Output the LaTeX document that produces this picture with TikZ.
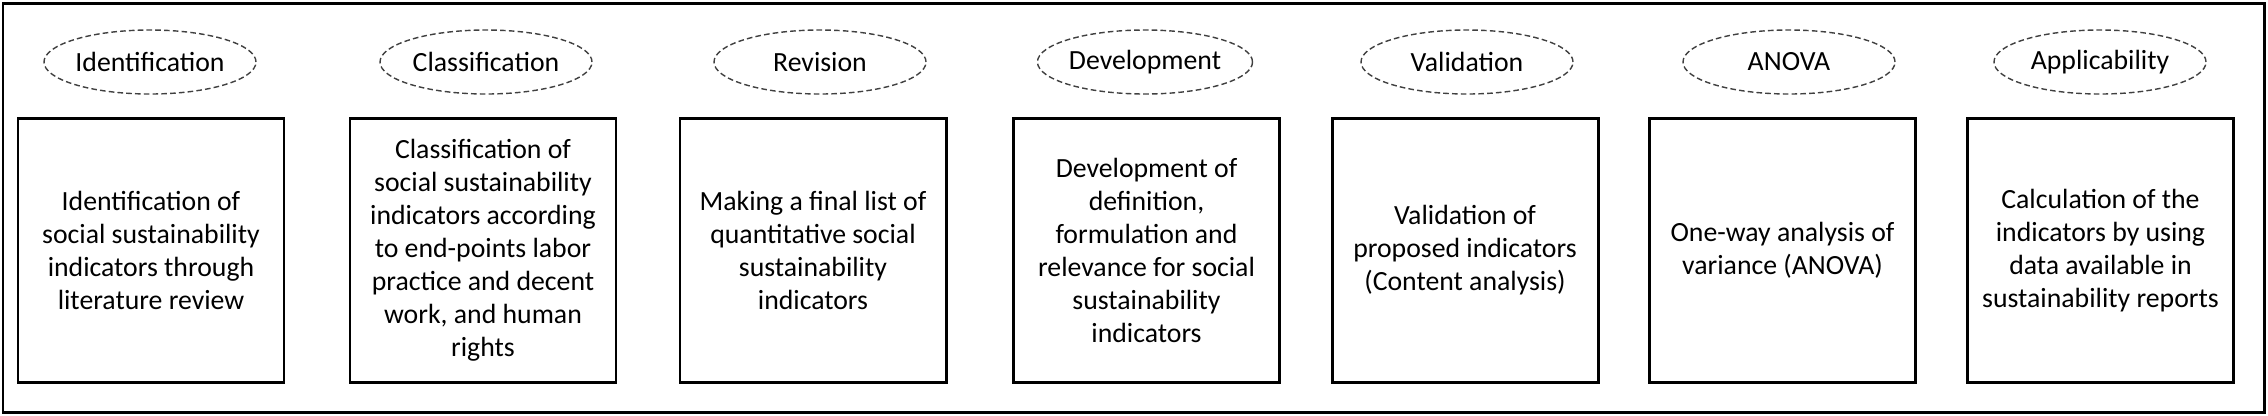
\documentclass[tikz,border=0pt]{standalone}
\usepackage{fontspec}
\setmainfont{Carlito}
\usetikzlibrary{shapes.geometric}

\tikzset{
    stagebox/.style={draw, line width=0.85pt, minimum width=2.66cm, minimum height=2.64cm,
        inner sep=0pt, align=center, font=\fontsize{7.9}{9.4}\selectfont},
    stagetag/.style={ellipse, draw=black!75, line width=0.4pt, dash pattern=on 1.6pt off 0.9pt,
        minimum width=2.12cm, minimum height=0.64cm, inner sep=0pt, font=\fontsize{7.9}{9.4}\selectfont}
}

\begin{document}
\begin{tikzpicture}
        \useasboundingbox (0,0) rectangle (22.68,-4.15);

        % outer frame
        \draw[line width=0.85pt] (0.03,-0.03) rectangle (22.64,-4.12);

        % stage labels
        \node[stagetag] (tag1) at (1.50,-0.62) {Identification};
        \node[stagetag] (tag2) at (4.86,-0.62) {Classification};
        \node[stagetag] (tag3) at (8.20,-0.62) {Revision};
        \node[stagetag] (tag4) at (11.45,-0.62) {Development};
        \node[stagetag] (tag5) at (14.67,-0.62) {Validation};
        \node[stagetag] (tag6) at (17.89,-0.62) {ANOVA};
        \node[stagetag] (tag7) at (21.00,-0.62) {Applicability};

        % stage contents
        \node[stagebox] (step1) at (1.51,-2.505) {
            Identification of\\ social sustainability\\ indicators through\\ literature review
        };
        \node[stagebox] (step2) at (4.83,-2.505) {
            Classification of\\ social sustainability\\ indicators according\\ to end-points labor\\
            practice and decent\\ work, and human\\ rights
        };
        \node[stagebox] (step3) at (8.13,-2.505) {
            Making a final list of\\ quantitative social\\ sustainability\\ indicators
        };
        \node[stagebox] (step4) at (11.465,-2.505) {
            Development of\\ definition,\\ formulation and\\ relevance for social\\ sustainability\\ indicators
        };
        \node[stagebox] (step5) at (14.65,-2.505) {
            Validation of\\ proposed indicators\\ (Content analysis)
        };
        \node[stagebox] (step6) at (17.825,-2.505) {
            One-way analysis of\\ variance (ANOVA)
        };
        \node[stagebox] (step7) at (21.005,-2.505) {
            Calculation of the\\ indicators by using\\ data available in\\ sustainability reports
        };
    \end{tikzpicture}
\end{document}
